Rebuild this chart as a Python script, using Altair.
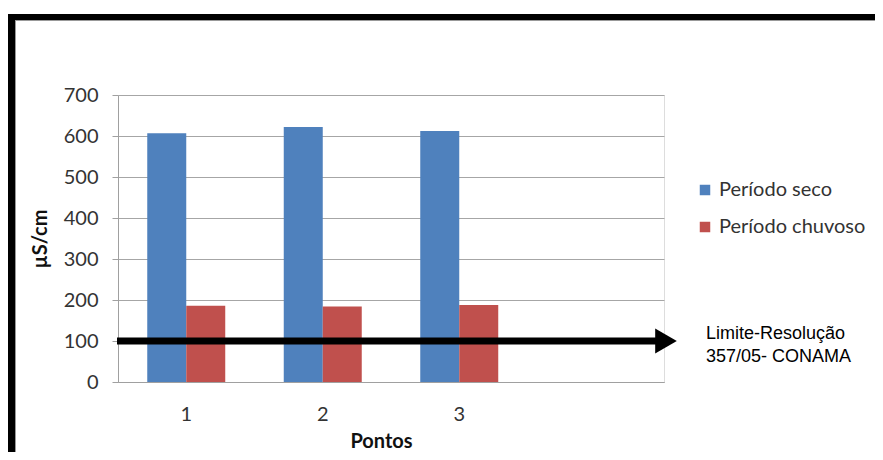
import altair as alt
import pandas as pd

pontos = ["1", "2", "3"]
eixo_pontos = ["1", "2", "3", "4"]
series = ["Período seco", "Período chuvoso"]
seco = [607, 622, 612]
chuvoso = [186, 184, 188]
limite = 100
limite_texto = ["Limite-Resolução", "357/05- CONAMA"]
y_ticks = [0, 100, 200, 300, 400, 500, 600, 700]
cores = ["#4F81BD", "#C0504D"]

rows = []
for i, p in enumerate(pontos):
    rows.append({"ponto": p, "serie": series[0], "valor": seco[i]})
    rows.append({"ponto": p, "serie": series[1], "valor": chuvoso[i]})
df = pd.DataFrame(rows)

W, H = 546, 287
FONT = "Lato"

bars = alt.Chart(df).mark_bar().encode(
    x=alt.X("ponto:N", sort=eixo_pontos,
            scale=alt.Scale(domain=eixo_pontos, paddingInner=0.4286, paddingOuter=0.2143),
            axis=alt.Axis(title="Pontos", labelAngle=0, ticks=False, tickSize=0,
                          labelPadding=22, labelFontSize=20, labelFont=FONT, labelColor="#333333",
                          labelExpr="datum.value == '4' ? '' : datum.value",
                          domainColor="#a0a0a0", grid=False,
                          titleFont=FONT, titleFontSize=20, titleFontWeight="bold", titleColor="#111111",
                          titleX=263, titleY=65, titleBaseline="alphabetic", titleAlign="center")),
    xOffset=alt.XOffset("serie:N", sort=series,
                        scale=alt.Scale(domain=series, paddingInner=0, paddingOuter=0)),
    y=alt.Y("valor:Q", scale=alt.Scale(domain=[0, 700], nice=False),
            axis=alt.Axis(title="µS/cm", values=y_ticks, tickSize=6, tickColor="#a0a0a0",
                          labelPadding=14, labelFontSize=20, labelFont=FONT, labelColor="#333333",
                          domainColor="#a0a0a0", gridColor="#a6a6a6",
                          titleFont=FONT, titleFontSize=20, titleFontWeight="bold", titleColor="#111111",
                          titleX=-78, titleY=143.5, titleAngle=-90, titleAlign="center",
                          titleBaseline="middle")),
    color=alt.Color("serie:N", sort=series,
                    scale=alt.Scale(domain=series, range=cores),
                    legend=alt.Legend(title=None, orient="none", legendX=577, legendY=85,
                                      symbolType="square", symbolSize=110, symbolStrokeWidth=0,
                                      labelFont=FONT, labelFontSize=20, labelColor="#333333",
                                      rowPadding=17, labelOffset=4, padding=0)),
)

one = pd.DataFrame({"v": [limite]})

arrow_line = alt.Chart(one).mark_rule(color="black", strokeWidth=7).encode(
    x=alt.value(-1), x2=alt.value(540), y=alt.Y("v:Q"))
arrow_head = alt.Chart(one).mark_point(shape="triangle-right", filled=True, color="black",
                                       opacity=1, size=625, strokeWidth=0).encode(
    x=alt.value(548), y=alt.Y("v:Q"))
label = alt.Chart(one).mark_text(align="left", baseline="alphabetic", font="Liberation Sans",
                                 fontSize=18, lineHeight=23, color="black").encode(
    x=alt.value(588), y=alt.value(244), text=alt.value(limite_texto))

frame_top = alt.Chart(one).mark_rule(color="black", strokeWidth=6).encode(
    x=alt.value(-110), x2=alt.value(757), y=alt.value(-78))
frame_top_edge = alt.Chart(one).mark_rule(color="#999999", strokeWidth=1).encode(
    x=alt.value(-103), x2=alt.value(757), y=alt.value(-74.5))
frame_left = alt.Chart(one).mark_rule(color="black", strokeWidth=7).encode(
    x=alt.value(-106.5), y=alt.value(-81), y2=alt.value(357))
frame_left_edge = alt.Chart(one).mark_rule(color="#999999", strokeWidth=1).encode(
    x=alt.value(-102.5), y=alt.value(-75), y2=alt.value(357))

chart = alt.layer(bars, arrow_line, arrow_head, label,
                  frame_top, frame_top_edge, frame_left, frame_left_edge).properties(
    width=W, height=H,
    autosize=alt.AutoSizeParams(type="none"),
    padding={"left": 110, "top": 87, "right": 211, "bottom": 70},
).configure_view(stroke=None).configure(background="white")

chart.save("out.html", embed_options={"renderer": "svg", "actions": False})
